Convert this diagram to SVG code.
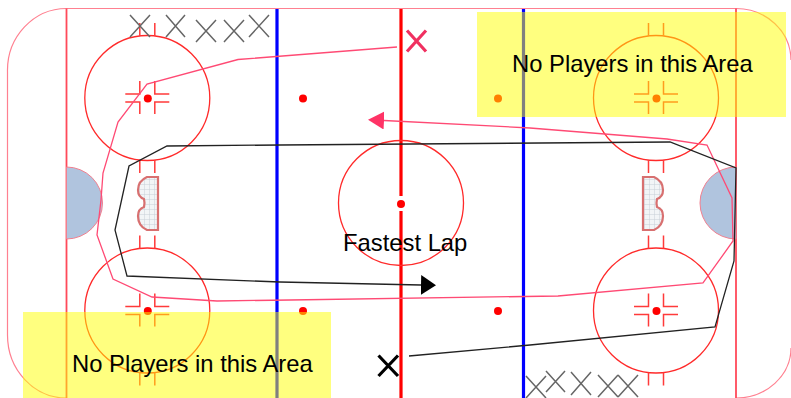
<svg xmlns="http://www.w3.org/2000/svg" width="791" height="398" viewBox="0 0 791 398">
<defs>
<style>
.rink{fill:none;stroke:#ff8090;stroke-width:1.2}
.ln{fill:none;stroke:#ff4a5a;stroke-width:1.8}
.c{fill:none;stroke:#ff2a2a;stroke-width:1.3}
.m{fill:none;stroke:#ff3a3a;stroke-width:1.5}
.d{fill:#f00}
.g{fill:none;stroke:#666;stroke-width:1.5}
.crease{fill:#b0c4de;stroke:#f08090;stroke-width:1}
.net{fill:url(#grid);stroke:#d87070;stroke-width:2.200}
.y{fill:#ff0;fill-opacity:.5}
.t{font-family:"Liberation Sans",Arial,sans-serif;font-size:23.8px;fill:#000}
.pk{fill:none;stroke:#ff4a74;stroke-width:1.3}
.bk{fill:none;stroke:#222;stroke-width:1.3}
</style>
<pattern id="grid" width="5" height="5" patternUnits="userSpaceOnUse">
<rect width="5" height="5" fill="#f2f5f7"/>
<path d="M5 0V5M0 5H5" stroke="#c8d0d8" stroke-width="1" fill="none"/>
</pattern>
<g id="face">
<circle class="c" cx="0" cy="0" r="62.500"/>
<path class="m" d="M-7.500-75V-62M7.500-75V-62M-7.500 62V75M7.500 62V75M-22-4H-7.500V-17M22-4H7.500V-17M-22 4H-7.500V16M22 4H7.500V16"/>
<circle class="d" cx="0.500" cy="0.500" r="4"/>
</g>
<marker id="ap" markerUnits="userSpaceOnUse" markerWidth="16" markerHeight="20" refX="0" refY="9" orient="auto"><path d="M0 0L16 9L0 18Z" fill="#ff3366"/></marker>
<marker id="ab" markerUnits="userSpaceOnUse" markerWidth="16" markerHeight="22" refX="0" refY="10" orient="auto"><path d="M0 0L15 10L0 20Z" fill="#000"/></marker>
</defs>
<rect width="791" height="398" fill="#fff"/>
<g id="rink">
<path class="rink" d="M66.500 8.500H736M66.500 8.500A59 62 0 0 0 7.500 72V335A59 63 0 0 0 66.500 398M736 8.500A55 52 0 0 1 791 60M736 398A55 50 0 0 0 791 348"/>
<path class="ln" d="M66.500 8.500V398M736 8.500V398"/>
</g>
<g id="creases">
<path class="crease" d="M66.500 167A36 36 0 0 1 66.500 239Z"/>
<path class="crease" d="M736 167A36 36 0 0 0 736 239Z"/>
</g>
<g id="nets">
<path class="net" d="M158 177H147Q138 181 138 190Q138 197 144 199Q145 203 144 207Q138 209 138 216Q138 226 147 230H158Z"/>
<path class="net" d="M643 177H654Q663 181 663 190Q663 197 657 199Q656 203 657 207Q663 209 663 216Q663 226 654 230H643Z"/>
</g>
<g id="lines">
<path d="M401 9V196M401 211V398" fill="none" stroke="#f00" stroke-width="3.200"/>
<path d="M277 9V398M523.500 9V398" fill="none" stroke="#00f" stroke-width="3.200"/>
</g>
<g id="circles">
<use id="face-tl" href="#face" x="147.300" y="98"/>
<use id="face-bl" href="#face" x="147.300" y="310.500"/>
<use id="face-tr" href="#face" x="656" y="98"/>
<use id="face-br" href="#face" x="656" y="310.500"/>
<circle id="center-circle" class="c" cx="401" cy="203" r="62.500"/>
</g>
<g id="dots">
<circle class="d" cx="303" cy="98.500" r="4"/>
<circle class="d" cx="303" cy="311" r="4"/>
<circle class="d" cx="498" cy="98.500" r="4"/>
<circle class="d" cx="498" cy="311" r="4"/>
<circle class="d" cx="401" cy="204" r="4"/>
</g>
<g id="players">
<path class="g" d="M130 37L150 15M130 15L150 37M166 37L185 15M166 15L185 37M196 42L216 20M196 20L216 42M224 42L244 20M224 20L244 42M249 37L269 15M249 15L269 37"/>
<path class="g" d="M526 398L546 376M526 376L546 398M546 392L565 371M546 371L565 392M571 395L591 372M571 372L591 395M598 397L618 375M598 375L618 397M618 397L638 375M618 375L638 397"/>
<path d="M407 30.500L426 51.500M426 30.500L407 51.500" fill="none" stroke="#f03060" stroke-width="3.200"/>
<path d="M378.500 355.500L398 376M398 355.500L378.500 376" fill="none" stroke="#000" stroke-width="3.200"/>
</g>
<g id="connectors">
<path class="pk" d="M397 47L238 59.500L147 84L118 122L103 173L101 200L97 235L113 279L152 297L217 301L290 300L558 296L703 283L733 241L732 198L707 145L667 139L530 128L384 120.500" marker-end="url(#ap)"/>
<path class="bk" d="M409 356L530 345L715 327L734 261L736 168L670 142L280 145L167 146L129 166L115 230L127 276L280 282L421 285" marker-end="url(#ab)"/>
</g>
<g id="zones">
<rect class="y" x="477" y="12" width="309" height="105"/>
<rect class="y" x="23" y="312" width="308" height="86"/>
</g>
<g id="labels">
<text class="t" x="512" y="72">No Players in this Area</text>
<text class="t" x="72" y="372">No Players in this Area</text>
<text class="t" x="343" y="251">Fastest Lap</text>
</g>
</svg>
